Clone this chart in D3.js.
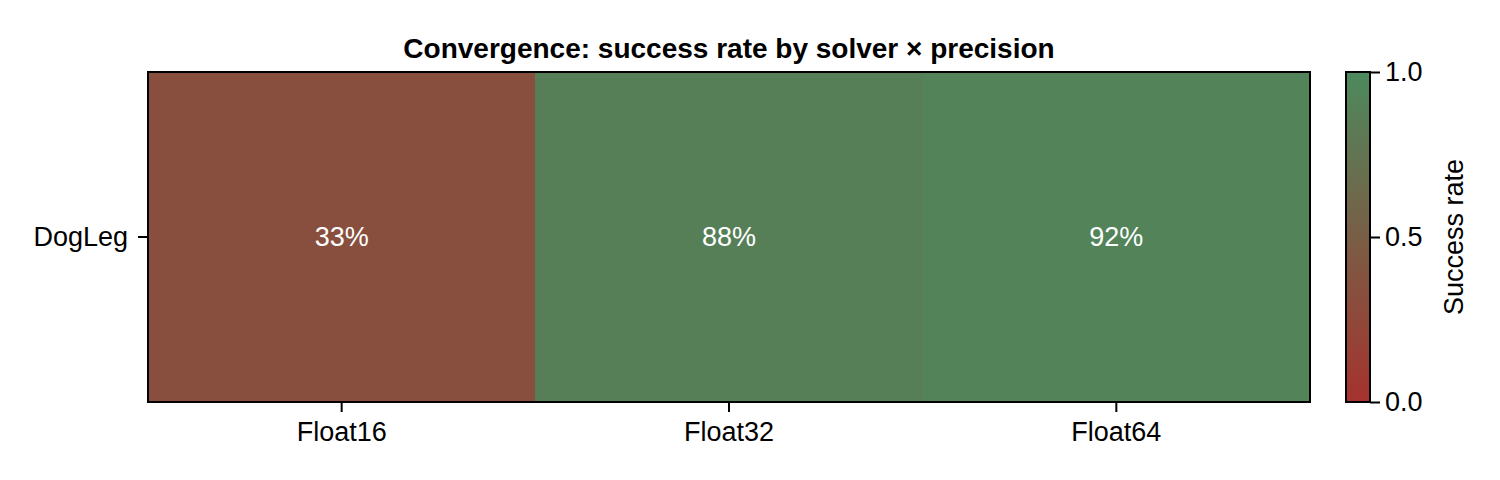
<!DOCTYPE html>
<html>
<head>
<meta charset="utf-8">
<script src="https://cdn.jsdelivr.net/npm/d3@7"></script>
<style>
  body { margin: 0; background: #fff; }
  svg { font-family: "Liberation Sans", Arial, sans-serif; }
</style>
</head>
<body>
<div id="container"></div>
<script>
// --- Data ---
const solvers = ['DogLeg'];
const precisions = ['Float16', 'Float32', 'Float64'];
const successRates = [0.33, 0.88, 0.92];
const colorbarTicks = [0.0, 0.5, 1.0];

const width = 1500;
const height = 480;
const plot = { left: 148, right: 1310, top: 72, bottom: 402 };
const cbar = { left: 1346, right: 1370 };
const FS = 27;

const svg = d3.select('#container').append('svg')
  .attr('width', width).attr('height', height);

const x = d3.scaleBand().domain(precisions).range([plot.left, plot.right]);
const y = d3.scaleBand().domain(solvers).range([plot.top, plot.bottom]);
const color = d3.scaleLinear().domain([0, 1]).range(['#a6322e', '#4c8a5d']).interpolate(d3.interpolateRgb);

const cells = precisions.map((p, i) => ({ solver: solvers[0], precision: p, value: successRates[i] }));

// cells
svg.append('g').selectAll('rect')
  .data(cells)
  .join('rect')
  .attr('x', (d) => x(d.precision))
  .attr('y', (d) => y(d.solver))
  .attr('width', x.bandwidth())
  .attr('height', y.bandwidth())
  .attr('fill', (d) => color(d.value))
  .attr('shape-rendering', 'crispEdges');

svg.append('g').selectAll('text')
  .data(cells)
  .join('text')
  .attr('x', (d) => x(d.precision) + x.bandwidth() / 2)
  .attr('y', (d) => y(d.solver) + y.bandwidth() / 2)
  .attr('dy', '0.35em')
  .attr('text-anchor', 'middle')
  .attr('fill', '#fff')
  .attr('font-size', FS)
  .text((d) => Math.round(d.value * 100) + '%');

// frame
svg.append('rect')
  .attr('x', plot.left).attr('y', plot.top)
  .attr('width', plot.right - plot.left).attr('height', plot.bottom - plot.top)
  .attr('fill', 'none').attr('stroke', '#000').attr('stroke-width', 2);

// axes
const xAxis = svg.append('g')
  .attr('transform', `translate(0,${plot.bottom})`)
  .call(d3.axisBottom(x).tickSize(10).tickSizeOuter(0).tickPadding(7));
const yAxis = svg.append('g')
  .attr('transform', `translate(${plot.left},0)`)
  .call(d3.axisLeft(y).tickSize(10).tickSizeOuter(0).tickPadding(10));
[xAxis, yAxis].forEach((a) => {
  a.select('.domain').remove();
  a.selectAll('.tick line').attr('stroke', '#000').attr('stroke-width', 2);
  a.selectAll('.tick text').attr('font-size', FS).attr('fill', '#000').attr('font-family', null);
});
xAxis.selectAll('.tick text').attr('dy', '0.8em');

// title
svg.append('text')
  .attr('x', (plot.left + plot.right) / 2)
  .attr('y', 58)
  .attr('text-anchor', 'middle')
  .attr('font-size', 28)
  .attr('font-weight', 'bold')
  .text('Convergence: success rate by solver × precision');

// colorbar
const defs = svg.append('defs');
const grad = defs.append('linearGradient')
  .attr('id', 'cbar-grad')
  .attr('x1', 0).attr('y1', 1).attr('x2', 0).attr('y2', 0);
d3.range(0, 1.0001, 0.1).forEach((t) => {
  grad.append('stop').attr('offset', t).attr('stop-color', color(t));
});

const cy = d3.scaleLinear().domain([0, 1]).range([plot.bottom, plot.top]);

svg.append('rect')
  .attr('x', cbar.left).attr('y', plot.top)
  .attr('width', cbar.right - cbar.left).attr('height', plot.bottom - plot.top)
  .attr('fill', 'url(#cbar-grad)')
  .attr('stroke', '#000').attr('stroke-width', 2);

const cAxis = svg.append('g')
  .attr('transform', `translate(${cbar.right},0)`)
  .call(d3.axisRight(cy).tickValues(colorbarTicks).tickFormat(d3.format('.1f')).tickSize(10).tickPadding(5));
cAxis.select('.domain').remove();
cAxis.selectAll('.tick line').attr('stroke', '#000').attr('stroke-width', 2);
cAxis.selectAll('.tick text').attr('font-size', FS).attr('fill', '#000').attr('font-family', null);

svg.append('text')
  .attr('transform', `translate(1463,${(plot.top + plot.bottom) / 2}) rotate(-90)`)
  .attr('text-anchor', 'middle')
  .attr('font-size', FS)
  .text('Success rate');
</script>
</body>
</html>
